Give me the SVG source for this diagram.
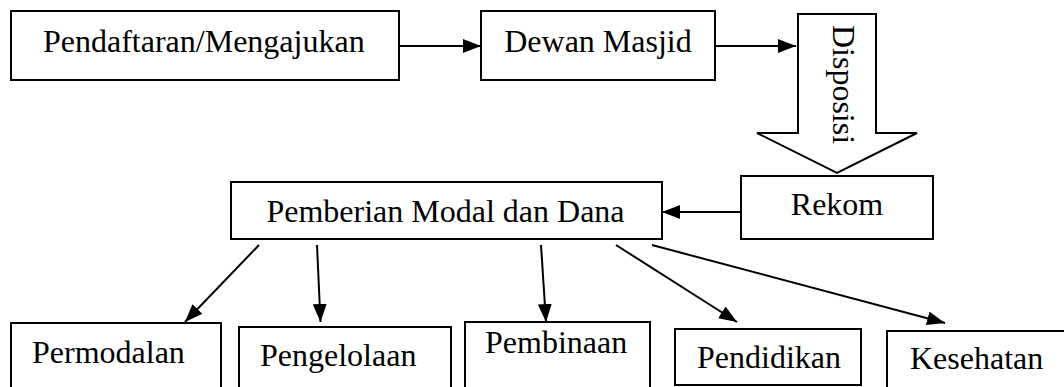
<svg xmlns="http://www.w3.org/2000/svg" width="1064" height="387" viewBox="0 0 1064 387">
<style>
.box{fill:#fff;stroke:#000;stroke-width:2}
.t{font-family:"Liberation Serif","Times New Roman",serif;font-size:32px;fill:#000}
.c{stroke:#000;stroke-width:2;fill:none;marker-end:url(#ah)}
</style>
<defs>
<marker id="ah" viewBox="0 0 18 14" refX="18" refY="7" markerWidth="18" markerHeight="14" markerUnits="userSpaceOnUse" orient="auto">
<path d="M0,0 L18,7 L0,14 Z" fill="#000"/>
</marker>
</defs>
<rect width="1064" height="387" fill="#fff"/>
<g id="connectors">
<line class="c" x1="399" y1="46" x2="481" y2="46"/>
<line class="c" x1="716" y1="46" x2="796" y2="46"/>
<line class="c" x1="741" y1="212" x2="662" y2="212"/>
<line class="c" x1="259" y1="245" x2="185" y2="322"/>
<line class="c" x1="317" y1="245" x2="320.5" y2="322"/>
<line class="c" x1="541" y1="245" x2="546" y2="322"/>
<line class="c" x1="616" y1="245" x2="737" y2="322"/>
<line class="c" x1="652" y1="245" x2="945" y2="323"/>
</g>
<g id="pendaftaran">
<rect class="box" x="11" y="11" width="388" height="69"/>
<text class="t" x="43" y="52">Pendaftaran/Mengajukan</text>
</g>
<g id="dewan">
<rect class="box" x="481" y="11" width="234" height="69"/>
<text class="t" x="598" y="52" text-anchor="middle">Dewan Masjid</text>
</g>
<g id="disposisi">
<path class="box" d="M798,14 L876,14 L876,133 L917,133 L837,173 L757,133 L798,133 Z"/>
<text class="t" transform="translate(833,84.5) rotate(90)" text-anchor="middle">Disposisi</text>
</g>
<g id="rekom">
<rect class="box" x="741" y="176" width="192" height="63"/>
<text class="t" x="837" y="215" text-anchor="middle">Rekom</text>
</g>
<g id="pemberian">
<rect class="box" x="231" y="182" width="431" height="57"/>
<text class="t" x="445.5" y="221.5" text-anchor="middle">Pemberian Modal dan Dana</text>
</g>
<g id="permodalan">
<rect class="box" x="11" y="323" width="210" height="70"/>
<text class="t" x="32" y="363">Permodalan</text>
</g>
<g id="pengelolaan">
<rect class="box" x="239" y="327" width="212" height="66"/>
<text class="t" x="260" y="366">Pengelolaan</text>
</g>
<g id="pembinaan">
<rect class="box" x="465" y="322" width="185" height="71"/>
<text class="t" x="485" y="353">Pembinaan</text>
</g>
<g id="pendidikan">
<rect class="box" x="675" y="329" width="186" height="56"/>
<text class="t" x="697" y="368">Pendidikan</text>
</g>
<g id="kesehatan">
<rect class="box" x="887" y="331" width="190" height="62"/>
<text class="t" x="910" y="369">Kesehatan</text>
</g>
</svg>
